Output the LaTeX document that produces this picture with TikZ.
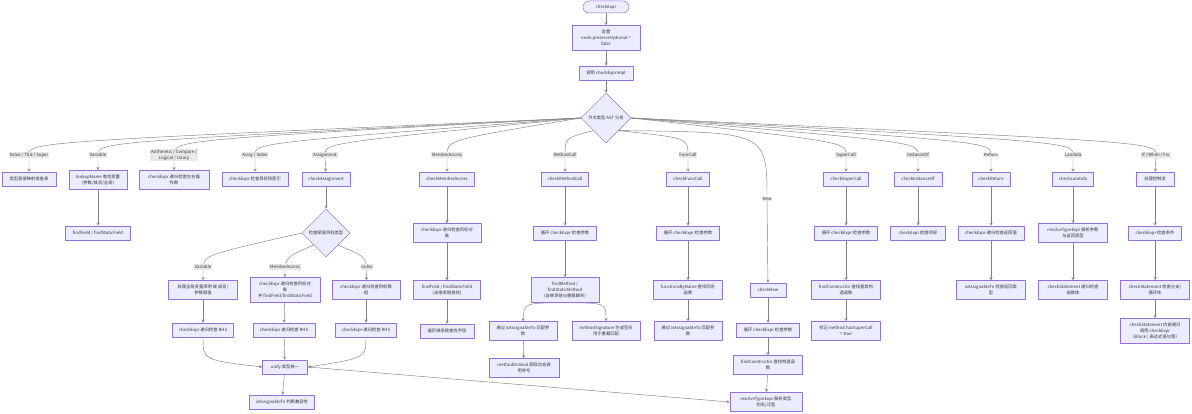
\documentclass[tikz,border=0pt]{standalone}
\usepackage{fontspec}
\setmainfont{Noto Sans CJK SC}
\usetikzlibrary{arrows,shapes.geometric}
\pgfdeclarelayer{bg}
\pgfsetlayers{bg,main}
\definecolor{nodefill}{HTML}{ECECFF}
\definecolor{nodeline}{HTML}{9370DB}
\definecolor{edgeline}{HTML}{808080}
\definecolor{lblfill}{HTML}{E8E8E8}
\definecolor{txt}{HTML}{333333}

\begin{document}
\begin{tikzpicture}[x=1pt, y=-1pt, >=stealth, line cap=round, line join=round,
    every node/.style={font=\fontsize{4.3}{6}\selectfont, text=txt},
    box/.style={draw=nodeline, fill=nodefill, line width=0.5pt, minimum width=#1, minimum height=14, inner xsep=2pt, inner ysep=4.5pt, align=center},
    choice/.style={draw=nodeline, fill=nodefill, line width=0.5pt, diamond, aspect=1, minimum size=#1, inner sep=0pt, align=center},
    lbl/.style={fill=lblfill, inner sep=0.8pt, align=center},
    edge/.style={draw=edgeline, line width=0.45pt, ->}]
    \useasboundingbox (0,0) rectangle (1192,414);

    % top of the flow
    \node[box=46, rounded corners=6, minimum height=12, inner ysep=2pt] (start) at (606,7) {checkExpr};
    \node[box=68] (setopt) at (606,38) {设置\\node.preserveOptional =\\false};
    \node[box=54] (callimpl) at (606,73) {调用 checkExprImpl};
    \node[choice=50] (dispatch) at (606,118) {节点类型 AST 分发};

    % branch labels
    \node[lbl] (l_val) at (29,155) {Value / This / Super};
    \node[lbl] (l_var) at (98,155) {Variable};
    \node[lbl] (l_ari) at (174,155) {Arithmetic / Compare /\\Logical / Unary};
    \node[lbl] (l_arr) at (255,155) {Array / Index};
    \node[lbl] (l_asg) at (325,155) {Assignment};
    \node[lbl] (l_mem) at (447,155) {MemberAccess};
    \node[lbl] (l_mc) at (565,155) {MethodCall};
    \node[lbl] (l_fc) at (688,155) {FuncCall};
    \node[lbl] (l_new) at (767,199) {New};
    \node[lbl] (l_sc) at (846,155) {SuperCall};
    \node[lbl] (l_io) at (918,155) {InstanceOf};
    \node[lbl] (l_ret) at (991,155) {Return};
    \node[lbl] (l_lam) at (1073,155) {Lambda};
    \node[lbl] (l_ctl) at (1156,155) {If / While / For};

    % first row
    \node[box=54] (b_val) at (29,179) {类型直接映射或查表};
    \node[box=58] (b_var) at (98,180) {lookupName 查找变量\\（参数/成员/全局）};
    \node[box=70] (b_ari) at (174,180) {checkExpr 递归检查左右操\\作数};
    \node[box=66] (b_arr) at (255,179) {checkExpr 检查目标和索引};
    \node[box=48] (b_asg) at (326,179) {checkAssignment};
    \node[box=55] (b_mem) at (447,179) {checkMemberAccess};
    \node[box=47] (b_mc) at (565,179) {checkMethodCall};
    \node[box=43] (b_fc) at (688,179) {checkFuncCall};
    \node[box=45] (b_sc) at (846,179) {checkSuperCall};
    \node[box=48] (b_io) at (918,179) {checkInstanceOf};
    \node[box=38] (b_ret) at (991,179) {checkReturn};
    \node[box=41] (b_lam) at (1073,179) {checkLambda};
    \node[box=38] (b_ctl) at (1155,179) {处理控制流};

    % second row
    \node[box=65] (var2) at (98,233) {findField / findStaticField};
    \node[choice=48] (asgdia) at (326,233) {检查赋值目标类型};
    \node[box=68] (mem2) at (447,233) {checkExpr 递归检查目标对\\象};
    \node[box=63] (mc2) at (565,233) {循环 checkExpr 检查参数};
    \node[box=63] (fc2) at (688,233) {循环 checkExpr 检查参数};
    \node[box=63] (sc2) at (846,233) {循环 checkExpr 检查参数};
    \node[box=55] (io2) at (918,233) {checkExpr 检查目标};
    \node[box=66] (ret2) at (991,233) {checkExpr 递归检查返回值};
    \node[box=69] (lam2) at (1073,233) {resolveTypeExpr 解析参数\\与返回类型};
    \node[box=53] (ctl2) at (1155,233) {checkExpr 检查条件};

    % assignment targets
    \node[lbl] (la_var) at (203,267) {Variable};
    \node[lbl] (la_mem) at (285,267) {MemberAccess};
    \node[lbl] (la_idx) at (367,267) {Index};

    % third row
    \node[box=69] (av) at (203,290) {处理全局变量声明 或 成员/\\参数赋值};
    \node[box=70] (am) at (285,290) {checkExpr 递归检查目标对\\象\\并 findField/findStaticField};
    \node[box=68] (ai) at (366,290) {checkExpr 递归检查目标数\\组};
    \node[box=67] (mem3) at (447,290) {findField / findStaticField\\（含继承链查找）};
    \node[box=68] (mc3) at (565,290) {findMethod /\\findStaticMethod\\（含继承链与重载解析）};
    \node[box=69] (fc3) at (688,290) {functionsByName 查找同名\\函数};
    \node[box=36] (nw) at (768,290) {checkNew};
    \node[box=69] (sc3) at (846,290) {findConstructor 查找基类构\\造函数};
    \node[box=69] (ret3) at (991,290) {isAssignableTo 检查返回类\\型};
    \node[box=69] (lam3) at (1073,290) {checkStatement 递归检查\\函数体};
    \node[box=69] (ctl3) at (1155,290) {checkStatement 检查分支/\\循环体};

    % fourth row
    \node[box=61] (av4) at (203,330) {checkExpr 递归检查 RHS};
    \node[box=62] (am4) at (284,330) {checkExpr 递归检查 RHS};
    \node[box=61] (ai4) at (366,330) {checkExpr 递归检查 RHS};
    \node[box=54] (mem4) at (447,331) {遍历继承链查找字段};
    \node[box=68] (mc4a) at (523,331) {通过 isAssignableTo 匹配参\\数};
    \node[box=68] (mc4b) at (606,331) {methodSignature 生成签名\\用于重载匹配};
    \node[box=68] (fc4) at (688,331) {通过 isAssignableTo 匹配参\\数};
    \node[box=63] (nw4) at (768,330) {循环 checkExpr 检查参数};
    \node[box=69] (sc4) at (846,331) {标记 method.hasSuperCall\\= true};
    \node[box=69] (ctl4) at (1155,331) {checkStatement 内部递归\\调用 checkExpr\\（Block / 表达式语句等）};

    % bottom rows
    \node[box=45] (unify) at (285,367) {unify 类型统一};
    \node[box=70] (mc5) at (524,368) {methodOrdinal 获取动态调\\用序号};
    \node[box=69] (nw5) at (768,365) {findConstructor 查找构造函\\数};
    \node[box=65] (compat) at (282,402) {isAssignableTo 判断兼容性};
    \node[box=72] (rte) at (766,402) {resolveTypeExpr 解析类型\\别名/泛型};

    \begin{pgfonlayer}{bg}
    \draw[edge] (start) -- (setopt);
    \draw[edge] (setopt) -- (callimpl);
    \draw[edge] (callimpl) -- (dispatch);

    % fan out of the dispatch
    \draw[edge] (dispatch.west) .. controls (29,142) .. (l_val.center) -- (b_val);
    \draw[edge] (dispatch.west) .. controls (98,142) .. (l_var.center) -- (b_var);
    \draw[edge] (dispatch.west) .. controls (174,140) .. (l_ari.center) -- (b_ari);
    \draw[edge] (dispatch.west) .. controls (255,143) .. (l_arr.center) -- (b_arr);
    \draw[edge] (dispatch.west) .. controls (325,143) .. (l_asg.center) -- (b_asg);
    \draw[edge] (dispatch.west) .. controls (447,140) .. (l_mem.center) -- (b_mem);
    \draw[edge] (dispatch.south west) .. controls (565,138) .. (l_mc.center) -- (b_mc);
    \draw[edge] (dispatch.south east) .. controls (688,138) .. (l_fc.center) -- (b_fc);
    \draw[edge] (dispatch.south east) .. controls (767,132) .. (l_new.center) -- (nw);
    \draw[edge] (dispatch.east) .. controls (846,142) .. (l_sc.center) -- (b_sc);
    \draw[edge] (dispatch.east) .. controls (918,142) .. (l_io.center) -- (b_io);
    \draw[edge] (dispatch.east) .. controls (991,142) .. (l_ret.center) -- (b_ret);
    \draw[edge] (dispatch.east) .. controls (1073,142) .. (l_lam.center) -- (b_lam);
    \draw[edge] (dispatch.east) .. controls (1156,142) .. (l_ctl.center) -- (b_ctl);

    \draw[edge] (b_var) -- (var2);
    \draw[edge] (b_asg) -- (asgdia);
    \draw[edge] (asgdia.west) .. controls (205,255) .. (la_var.center) -- (av);
    \draw[edge] (asgdia.south west) .. controls (288,256) .. (la_mem.center) -- (am);
    \draw[edge] (asgdia.south east) .. controls (364,256) .. (la_idx.center) -- (ai);
    \draw[edge] (av) -- (av4);
    \draw[edge] (am) -- (am4);
    \draw[edge] (ai) -- (ai4);
    \draw[edge] (av4.south) .. controls (203,360) .. (unify.west);
    \draw[edge] (am4) -- (unify);
    \draw[edge] (ai4.south) .. controls (366,358) .. (unify.east);
    \draw[edge] (unify) -- (compat);
    \draw[edge] (unify.east) -- (rte.west);

    \draw[edge] (b_mem) -- (mem2);
    \draw[edge] (mem2) -- (mem3);
    \draw[edge] (mem3) -- (mem4);

    \draw[edge] (b_mc) -- (mc2);
    \draw[edge] (mc2) -- (mc3);
    \draw[edge] (mc3.south) .. controls (524,303) .. (mc4a.north);
    \draw[edge] (mc3.south) .. controls (606,303) .. (mc4b.north);
    \draw[edge] (mc4a) -- (mc5);

    \draw[edge] (b_fc) -- (fc2);
    \draw[edge] (fc2) -- (fc3);
    \draw[edge] (fc3) -- (fc4);

    \draw[edge] (nw) -- (nw4);
    \draw[edge] (nw4) -- (nw5);
    \draw[edge] (nw5) -- (rte);

    \draw[edge] (b_sc) -- (sc2);
    \draw[edge] (sc2) -- (sc3);
    \draw[edge] (sc3) -- (sc4);

    \draw[edge] (b_io) -- (io2);
    \draw[edge] (b_ret) -- (ret2);
    \draw[edge] (ret2) -- (ret3);
    \draw[edge] (b_lam) -- (lam2);
    \draw[edge] (lam2) -- (lam3);
    \draw[edge] (b_ctl) -- (ctl2);
    \draw[edge] (ctl2) -- (ctl3);
    \draw[edge] (ctl3) -- (ctl4);
    \end{pgfonlayer}
\end{tikzpicture}
\end{document}
